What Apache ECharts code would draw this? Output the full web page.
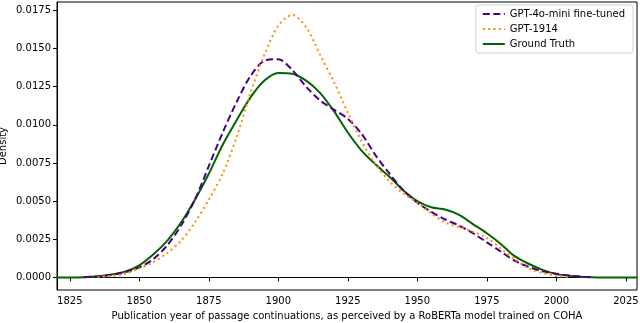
<!DOCTYPE html>
<html>
<head>
<meta charset="utf-8">
<script src="https://cdn.jsdelivr.net/npm/echarts@6/dist/echarts.min.js"></script>
<style>html,body{margin:0;padding:0;background:#fff}#c{width:640px;height:323px}</style>
</head>
<body>
<div id="c"></div>
<script>
const xTicks = [1825, 1850, 1875, 1900, 1925, 1950, 1975, 2000, 2025];
const yTicks = [0, 0.0025, 0.005, 0.0075, 0.01, 0.0125, 0.015, 0.0175];

const years = [1820, 1825, 1830, 1835, 1840, 1845, 1850, 1855, 1860, 1865, 1870, 1875, 1880, 1885, 1890, 1895, 1900, 1905, 1910, 1915, 1920, 1925, 1930, 1935, 1940, 1945, 1950, 1955, 1960, 1965, 1970, 1975, 1980, 1985, 1990, 1995, 2000, 2005, 2010, 2015, 2020, 2025, 2029];

const groundTruth = [0, 0, 0.00002, 0.00008, 0.0002, 0.0004, 0.0008, 0.0015, 0.0024, 0.0036, 0.0051, 0.0068, 0.0087, 0.0103, 0.0118, 0.0129, 0.0134, 0.01335, 0.0129, 0.0121, 0.0109, 0.0095, 0.0083, 0.0074, 0.0066, 0.0057, 0.0050, 0.0046, 0.00445, 0.0041, 0.0035, 0.0029, 0.0022, 0.0014, 0.0009, 0.0005, 0.00022, 0.0001, 0.00003, 0, 0, 0, 0];

const fineYears = [1830, 1835, 1840, 1845, 1850, 1855, 1860, 1865, 1870, 1875, 1880, 1885, 1890, 1895, 1900, 1905, 1910, 1915, 1920, 1925, 1930, 1935, 1940, 1945, 1950, 1955, 1960, 1965, 1970, 1975, 1980, 1985, 1990, 1995, 2000, 2005, 2010, 2013];
const fineTuned = [0.00002, 0.00007, 0.00018, 0.00035, 0.00066, 0.0012, 0.0021, 0.0034, 0.0051, 0.0073, 0.0095, 0.0115, 0.0132, 0.0142, 0.0143, 0.0136, 0.0125, 0.0116, 0.0110, 0.0104, 0.0094, 0.0080, 0.0068, 0.0057, 0.0049, 0.0043, 0.0038, 0.0034, 0.0029, 0.0023, 0.0017, 0.0011, 0.0007, 0.0004, 0.00025, 0.00012, 0.00005, 0.00002];

const gptYears = [1835, 1840, 1845, 1850, 1855, 1860, 1865, 1870, 1875, 1880, 1885, 1890, 1895, 1900, 1905, 1910, 1915, 1920, 1925, 1930, 1935, 1940, 1945, 1950, 1955, 1960, 1965, 1970, 1975, 1980, 1985, 1990, 1995, 2000, 2005];
const gpt1914 = [0.00002, 0.0001, 0.00025, 0.0006, 0.001, 0.0016, 0.0024, 0.0036, 0.0051, 0.0068, 0.0092, 0.0121, 0.0146, 0.0165, 0.0172, 0.0164, 0.0146, 0.0128, 0.0108, 0.0089, 0.0074, 0.0063, 0.0055, 0.0049, 0.0042, 0.0036, 0.0033, 0.0030, 0.0026, 0.0019, 0.0012, 0.0006, 0.0003, 0.0001, 0.00003];

const zip = (xs, ys) => xs.map((x, i) => [x, ys[i]]);
const font = 'DejaVu Sans';

const chart = echarts.init(document.getElementById('c'), null, {renderer: 'canvas'});
chart.setOption({
  animation: false,
  backgroundColor: '#fff',
  grid: {left: 57, right: 3, top: 2, bottom: 33, outerBoundsMode: 'none', containLabel: false,
         show: true, borderColor: '#000', borderWidth: 1, backgroundColor: 'transparent'},
  legend: {
    orient: 'vertical', right: 7, top: 5,
    itemWidth: 22, itemHeight: 10, itemGap: 5,
    padding: [4, 8, 4, 6],
    borderColor: '#d0d0d0', borderWidth: 1, borderRadius: 3,
    backgroundColor: '#fff',
    itemStyle: {opacity: 0},
    textStyle: {fontFamily: font, fontSize: 10, color: '#000'},
    data: ['GPT-4o-mini fine-tuned', 'GPT-1914', 'Ground Truth']
  },
  xAxis: {
    type: 'value', min: 1820.4, max: 2029,
    name: 'Publication year of passage continuations, as perceived by a RoBERTa model trained on COHA',
    nameLocation: 'middle', nameGap: 21, nameMoveOverlap: false,
    nameTextStyle: {fontFamily: font, fontSize: 10, color: '#000'},
    splitLine: {show: false},
    axisLine: {lineStyle: {color: '#000', width: 1}},
    axisTick: {length: 4, customValues: xTicks, lineStyle: {color: '#000'}},
    axisLabel: {customValues: xTicks, margin: 6, fontFamily: font, fontSize: 10, color: '#000', formatter: v => String(v)}
  },
  yAxis: {
    type: 'value', min: -0.00082, max: 0.01805,
    name: 'Density', nameLocation: 'middle', nameGap: 49, nameRotate: 90, nameMoveOverlap: false,
    nameTextStyle: {fontFamily: font, fontSize: 10, color: '#000'},
    splitLine: {show: false},
    axisLine: {show: true, lineStyle: {color: '#000', width: 1}},
    axisTick: {length: 4, customValues: yTicks, lineStyle: {color: '#000'}},
    axisLabel: {customValues: yTicks, margin: 6, fontFamily: font, fontSize: 10, color: '#000', formatter: v => v.toFixed(4)}
  },
  series: [
    {name: 'GPT-4o-mini fine-tuned', type: 'line', data: zip(fineYears, fineTuned), smooth: 0.3, symbol: 'none', z: 3,
     itemStyle: {color: '#4b0082'}, lineStyle: {color: '#4b0082', width: 2, type: [7, 3.5]}},
    {name: 'GPT-1914', type: 'line', data: zip(gptYears, gpt1914), smooth: 0.3, symbol: 'none', z: 4,
     itemStyle: {color: '#ff8c00'}, lineStyle: {color: '#ff8c00', width: 2, type: [2, 3.3]}},
    {name: 'Ground Truth', type: 'line', data: zip(years, groundTruth), smooth: 0.3, symbol: 'none', z: 2,
     itemStyle: {color: '#006400'}, lineStyle: {color: '#006400', width: 2}}
  ]
});
</script>
</body>
</html>
